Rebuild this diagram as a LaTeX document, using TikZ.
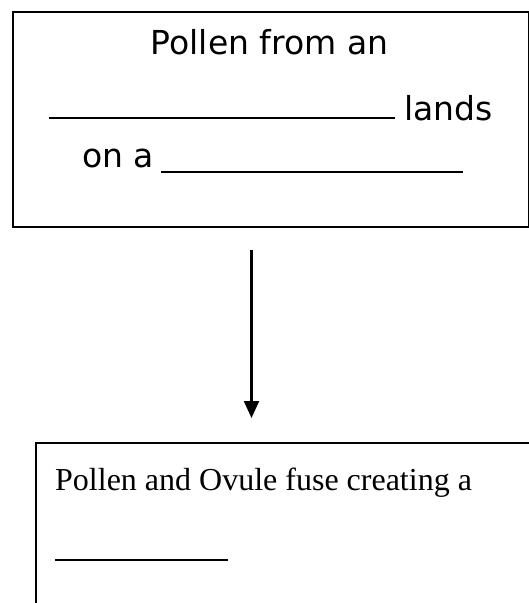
\documentclass[tikz,border=0pt]{standalone}
\usepackage{fontspec}
\setmainfont{Liberation Serif}
\newfontfamily\topfont{DejaVu Sans}
\usetikzlibrary{arrows.meta}
\begin{document}
\begin{tikzpicture}[x=1pt,y=1pt,
  boxstyle/.style={draw=black, line width=2pt, inner sep=0pt, anchor=north west},
  toptext/.style={font=\topfont\fontsize{33}{38}\selectfont, inner sep=0pt},
  bottext/.style={font=\fontsize{32}{38}\selectfont, inner sep=0pt, anchor=base west},
  flowarrow/.style={line width=2.2pt, -{Triangle[width=15pt,length=17pt]}}]
\clip (0,0) rectangle (529,-603);
% top box
\node[boxstyle, minimum width=516pt, minimum height=215.5pt] (topbox) at (11.5,-10.5) {};
\node[toptext, anchor=base] (l1) at (269.5,-54) {Pollen from an};
\node[toptext, anchor=base west] (l2) at (49,-120) {\rule[1pt]{346pt}{2pt}\hspace{9pt}lands};
\node[toptext, anchor=base west] (l3) at (82,-167) {on a\hspace{7pt}\rule[-6pt]{302pt}{2pt}};
% arrow
\coordinate (as) at (251.5,-250);
\coordinate (ae) at (251.5,-418);
\draw[flowarrow] (as) -- (ae);
% bottom box (cut off at right and bottom)
\node[boxstyle, minimum width=520pt, minimum height=200pt] (botbox) at (35,-442) {};
\node[bottext] (b1) at (55,-490) {Pollen and Ovule fuse creating a};
\node[bottext] (b2) at (55,-561) {\rule{173pt}{2pt}};
\end{tikzpicture}
\end{document}
